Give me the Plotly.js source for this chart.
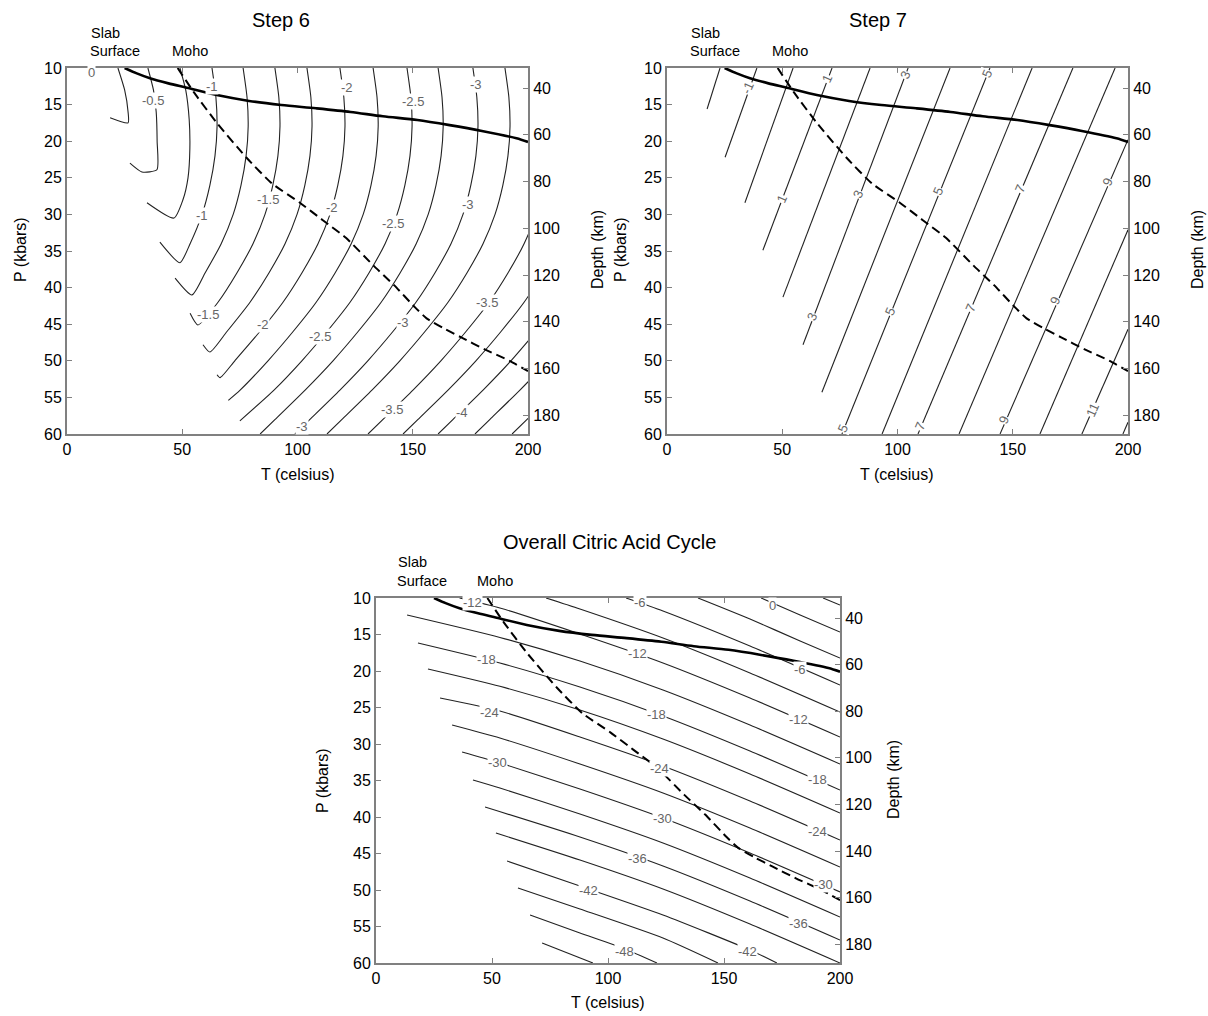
<!DOCTYPE html>
<html><head><meta charset="utf-8">
<script src="https://cdn.plot.ly/plotly-3.0.1.min.js"></script>
<style>html,body{margin:0;padding:0;background:#fff}#chart{width:1208px;height:1016px}</style>
</head><body><div id="chart"></div>
<script>
// ---------- shared P-T paths ----------
const slabT = [25, 30, 36, 44, 52, 65, 79, 93, 108, 123, 137, 152, 166, 180, 195, 200];
const slabP = [10, 10.7, 11.4, 12.1, 12.7, 13.7, 14.5, 15.05, 15.5, 16.0, 16.6, 17.1, 17.8, 18.6, 19.6, 20.1];
const mohoT = [48, 55, 65, 78, 89, 101, 111, 121, 133, 142, 151, 156, 163, 171, 181, 192, 200];
const mohoP = [10, 13.3, 17.5, 22.3, 25.8, 28.4, 30.8, 33.2, 37, 39.7, 42.7, 44.2, 45.5, 46.8, 48.4, 50, 51.4];

// ---------- Step 6 contours ----------
const step6Levels = ['-0.25','-0.5','-0.75','-1','-1.25','-1.5','-1.75','-2','-2.25','-2.5','-2.75','-3','-3.25','-3.5','-3.75','-4','-4.25','-4.5'];
const step6T = [
 [22.1, 25.0, 26.5, 26.5, 18.7],
 [35.1, 37.5, 38.7, 39.1, 39.0, 32.5, 27.3],
 [49.0, 51.5, 53.0, 53.3, 52.5, 50.3, 46.4, 34.7],
 [62.9, 64.6, 65.1, 64.2, 62.0, 58.6, 53.4, 49.0, 40.3],
 [76.4, 78.1, 78.6, 77.7, 75.5, 72.1, 66.9, 59.9, 54.2, 46.9],
 [90.2, 91.9, 92.4, 91.5, 89.3, 85.9, 80.7, 73.7, 65.5, 56.8, 53.4],
 [104.1, 105.8, 106.3, 105.4, 103.2, 99.8, 94.6, 87.6, 79.4, 69.4, 62.0, 59.0],
 [118.4, 120.1, 120.6, 119.7, 117.5, 114.1, 108.9, 101.9, 93.7, 83.7, 72.8, 66.4, 65.1],
 [132.8, 134.5, 135.0, 134.1, 131.9, 128.5, 123.3, 116.3, 108.1, 98.1, 87.2, 75.1, 70.0],
 [147.5, 149.2, 149.7, 148.8, 146.6, 143.2, 138.0, 131.0, 122.8, 112.8, 101.9, 89.8, 75.0],
 [161.0, 162.7, 163.2, 162.3, 160.1, 156.7, 151.5, 144.5, 136.3, 126.3, 115.4, 103.3, 90.3, 83.8],
 [176.1, 177.8, 178.3, 177.4, 175.2, 171.8, 166.6, 159.6, 151.4, 141.4, 130.5, 118.4, 105.4, 98.9],
 [190.0, 191.7, 192.2, 191.3, 189.1, 185.7, 180.5, 173.5, 165.3, 155.3, 144.4, 132.3, 119.3, 112.8],
 [207.8, 209.5, 210.0, 209.1, 206.9, 203.5, 198.3, 191.3, 183.1, 173.1, 162.2, 150.1, 137.1, 130.6],
 [223.0, 224.7, 225.2, 224.3, 222.1, 218.7, 213.5, 206.5, 198.3, 188.3, 177.4, 165.3, 152.3, 145.8],
 [238.2, 239.9, 240.4, 239.5, 237.3, 233.9, 228.7, 221.7, 213.5, 203.5, 192.6, 180.5, 167.5, 161.0],
 [254.2, 255.9, 256.4, 255.5, 253.3, 249.9, 244.7, 237.7, 229.5, 219.5, 208.6, 196.5, 183.5, 177.0],
 [270.3, 272.0, 272.5, 271.6, 269.4, 266.0, 260.8, 253.8, 245.6, 235.6, 224.7, 212.6, 199.6, 193.1]
];
const step6P = [
 [10, 13, 16, 17.5, 16.8],
 [10, 13, 16, 20, 23.9, 24.2, 23.0],
 [10, 13, 17, 21, 25, 28, 30.5, 28.4],
 [10, 14, 18, 22, 26, 30, 34, 36.6, 33.8],
 [10, 14, 18, 22, 26, 30, 34, 38, 41.0, 38.7],
 [10, 14, 18, 22, 26, 30, 34, 38, 42, 45.1, 43.5],
 [10, 14, 18, 22, 26, 30, 34, 38, 42, 46, 48.8, 47.8],
 [10, 14, 18, 22, 26, 30, 34, 38, 42, 46, 50, 52.3, 51.9],
 [10, 14, 18, 22, 26, 30, 34, 38, 42, 46, 50, 54, 55.4],
 [10, 14, 18, 22, 26, 30, 34, 38, 42, 46, 50, 54, 58.2],
 [10, 14, 18, 22, 26, 30, 34, 38, 42, 46, 50, 54, 58, 60],
 [10, 14, 18, 22, 26, 30, 34, 38, 42, 46, 50, 54, 58, 60],
 [10, 14, 18, 22, 26, 30, 34, 38, 42, 46, 50, 54, 58, 60],
 [10, 14, 18, 22, 26, 30, 34, 38, 42, 46, 50, 54, 58, 60],
 [10, 14, 18, 22, 26, 30, 34, 38, 42, 46, 50, 54, 58, 60],
 [10, 14, 18, 22, 26, 30, 34, 38, 42, 46, 50, 54, 58, 60],
 [10, 14, 18, 22, 26, 30, 34, 38, 42, 46, 50, 54, 58, 60],
 [10, 14, 18, 22, 26, 30, 34, 38, 42, 46, 50, 54, 58, 60]
];
const step6LabT = [10.8, 37.3, 62.9, 121.5, 150.1, 177.4, 58.6, 87.2, 115.0, 141.4, 174.0, 61.2, 85.0, 109.8, 145.8, 182.2, 102.0, 141.0, 171.4];
const step6LabP = [10.6, 14.4, 12.5, 12.7, 14.6, 12.3, 30.1, 28.0, 29.0, 31.2, 28.7, 43.7, 45.1, 46.7, 44.8, 42.1, 59.0, 56.7, 57.1];
const step6LabText = ['0','-0.5','-1','-2','-2.5','-3','-1','-1.5','-2','-2.5','-3','-1.5','-2','-2.5','-3','-3.5','-3','-3.5','-4'];

// ---------- Step 7 contours ----------
const step7Levels = ['-2','-1','0','1','2','3','4','5','6','7','8','9','10','11','12'];
const step7T = [[23.0,17.4],[39.0,25.2],[54.7,33.8],[71.6,41.6],[88.1,50.3],[104.6,59.0],[122.8,67.2],[140.1,75.9],[158.4,93.3],[176.1,108.9],[194.4,126.7],[200,144.5],[200,161.8],[200,180.0],[200,197.8]];
const step7P = [[10,15.6],[10,22.2],[10,28.4],[10,34.9],[10,41.3],[10,47.8],[10,54.3],[10,60],[10,60],[10,60],[10,60],[19.8,60],[32.1,60],[45.7,60],[58.4,60]];
const step7LabT = [35.1, 69.4, 103.3, 138.8, 49.5, 82.9, 117.6, 153.1, 190.9, 62.9, 96.7, 131.5, 168.3, 76.4, 109.8, 146.2, 184.8];
const step7LabP = [12.7, 11.4, 11.0, 10.7, 27.9, 27.3, 26.9, 26.4, 25.6, 43.9, 43.2, 42.8, 41.7, 59.3, 59.0, 58.0, 56.7];
const step7LabText = ['-1','1','3','5','1','3','5','7','9','3','5','7','9','5','7','9','11'];

// ---------- Overall cycle contours ----------
const overallLevels = ['3','0','-3','-6','-9','-12','-15','-18','-21','-24','-27','-30','-33','-36','-39','-42','-45','-48','-51'];
const overallT = [
 [192.7, 200],
 [166.0, 182.8, 200],
 [138.8, 161.2, 182.8, 200],
 [107.8, 123.7, 161.2, 200],
 [73.3, 87.9, 123.7, 161.2, 200],
 [36.0, 53.4, 87.9, 123.7, 161.2, 200],
 [13.4, 53.4, 87.9, 123.7, 161.2, 200],
 [18.1, 53.4, 87.9, 123.7, 161.2, 200],
 [22.4, 53.4, 87.9, 123.7, 161.2, 200],
 [27.6, 53.4, 87.9, 123.7, 161.2, 200],
 [32.8, 53.4, 87.9, 123.7, 161.2, 200],
 [37.1, 52.2, 87.9, 123.7, 161.2, 200],
 [41.8, 53.4, 87.9, 123.7, 161.2, 200],
 [47.0, 87.9, 123.7, 161.2, 200],
 [51.7, 87.9, 123.7, 161.2, 200],
 [56.5, 87.9, 123.7, 161.2, 172.8],
 [61.2, 87.9, 123.7, 147.4],
 [66.4, 87.9, 107.3, 121.1],
 [71.6, 93.5]
];
const overallP = [
 [10, 10.96],
 [10, 12.33, 14.66],
 [10, 12.88, 15.89, 18.22],
 [10, 11.78, 16.58, 21.92],
 [10, 11.51, 15.48, 20.27, 25.62],
 [10, 11.37, 14.93, 18.90, 23.70, 29.04],
 [12.33, 15.4, 18.63, 22.60, 27.40, 32.74],
 [16.16, 18.9, 22.19, 26.16, 30.96, 36.30],
 [19.73, 22.1, 25.34, 29.32, 34.11, 39.45],
 [23.70, 25.48, 29.04, 33.01, 37.81, 43.15],
 [27.40, 29.18, 32.74, 36.71, 41.51, 46.85],
 [31.10, 32.47, 36.16, 40.14, 44.93, 50.27],
 [34.93, 36.03, 39.59, 43.56, 48.36, 53.70],
 [38.63, 42.74, 46.71, 51.51, 56.85],
 [42.19, 45.89, 49.86, 54.66, 60],
 [46.03, 49.45, 53.42, 58.22, 60],
 [49.73, 52.60, 56.58, 60],
 [53.42, 55.89, 58.08, 60],
 [57.26, 60]
];
const overallLabT = [41.4, 113.8, 171.1, 112.9, 182.8, 47.8, 120.7, 181.9, 49.1, 122.0, 190.1, 52.2, 123.7, 190.5, 112.5, 192.7, 91.4, 181.9, 107.3, 160.3];
const overallLabP = [10.68, 10.68, 10.96, 17.67, 19.73, 18.49, 25.89, 26.71, 25.75, 33.29, 34.93, 32.47, 40.14, 41.92, 45.62, 49.18, 50.0, 54.52, 58.36, 58.36];
const overallLabText = ['-12','-6','0','-12','-6','-18','-18','-12','-24','-24','-18','-30','-30','-24','-36','-30','-42','-36','-48','-42'];

// ---------- axis ticks ----------
const tTicks = [0, 50, 100, 150, 200];
const pTicks = [10, 15, 20, 25, 30, 35, 40, 45, 50, 55, 60];
const depthTicks = [40, 60, 80, 100, 120, 140, 160, 180];
const depthRange = [188, 31.4];   // depth (km) at P = 60 and P = 10 kbar

// ---------- build ----------
const FONT = 'Liberation Sans, Arial, Helvetica, sans-serif';
const traces = [];
const annotations = [];
const panels = [
  {x:'x',  y:'y',  y2:'y2', T:step6T,  P:step6P,  lt:step6LabT,  lp:step6LabP,  ltx:step6LabText,  ang:0,   shape:'spline'},
  {x:'x2', y:'y3', y2:'y4', T:step7T,  P:step7P,  lt:step7LabT,  lp:step7LabP,  ltx:step7LabText,  ang:-66, shape:'linear'},
  {x:'x3', y:'y5', y2:'y6', T:overallT, P:overallP, lt:overallLabT, lp:overallLabP, ltx:overallLabText, ang:0,   shape:'spline'}
];
panels.forEach(pn => {
  pn.T.forEach((tt, i) => {
    traces.push({type:'scatter', mode:'lines', x:tt, y:pn.P[i], xaxis:pn.x, yaxis:pn.y,
      line:{color:'#222', width:1.1, shape:pn.shape, smoothing:0.6}, hoverinfo:'skip', showlegend:false});
  });
  traces.push({type:'scatter', mode:'lines', x:slabT, y:slabP, xaxis:pn.x, yaxis:pn.y,
    line:{color:'#000', width:2.6, shape:'spline', smoothing:0.8}, hoverinfo:'skip', showlegend:false});
  traces.push({type:'scatter', mode:'lines', x:mohoT, y:mohoP, xaxis:pn.x, yaxis:pn.y,
    line:{color:'#000', width:2, dash:'9px,5px', shape:'spline', smoothing:0.5}, hoverinfo:'skip', showlegend:false});
  traces.push({type:'scatter', mode:'lines', x:[], y:[], xaxis:pn.x, yaxis:pn.y2, hoverinfo:'skip', showlegend:false});
  pn.lt.forEach((t, i) => {
    annotations.push({xref:pn.x, yref:pn.y, x:t, y:pn.lp[i], text:pn.ltx[i], showarrow:false,
      font:{family:FONT, size:13, color:'#666'}, bgcolor:'#fff', borderpad:0, textangle:pn.ang});
  });
});

function xAx(dom, anchor) {
  return {domain:dom, anchor:anchor, range:[0,200], tickvals:tTicks, ticks:'inside', ticklen:5, tickwidth:1,
    tickcolor:'#808080', showline:true, linecolor:'#808080', linewidth:2, mirror:'ticks', showgrid:false,
    zeroline:false, tickfont:{family:FONT, size:16, color:'#000'}, fixedrange:true};
}
function yAx(dom, anchor) {
  return {domain:dom, anchor:anchor, range:[60,10], tickvals:pTicks, ticks:'inside', ticklen:5, tickwidth:1,
    tickcolor:'#808080', showline:true, linecolor:'#808080', linewidth:2, showgrid:false, zeroline:false,
    tickfont:{family:FONT, size:16, color:'#000'}, fixedrange:true};
}
function dAx(over, anchor) {
  return {overlaying:over, anchor:anchor, side:'right', range:depthRange, tickvals:depthTicks, ticks:'inside',
    ticklen:5, tickwidth:1, tickcolor:'#808080', showline:true, linecolor:'#808080', linewidth:2,
    showgrid:false, zeroline:false, tickfont:{family:FONT, size:16, color:'#000'}, fixedrange:true};
}
const W = 1208, H = 1016;
const fx = px => px / W, fy = py => 1 - py / H;

function txt(text, px, py, size, opts) {
  return Object.assign({xref:'paper', yref:'paper', x:fx(px), y:fy(py), text:text, showarrow:false,
    xanchor:'center', yanchor:'middle', font:{family:FONT, size:size, color:'#000'}}, opts || {});
}
annotations.push(
  txt('Step 6', 281, 20, 20), txt('Step 7', 878, 20, 20), txt('Overall Citric Acid Cycle', 609, 542, 20),
  txt('P (kbars)', 20, 250, 16, {textangle:-90}), txt('Depth (km)', 597, 250, 16, {textangle:-90}),
  txt('P (kbars)', 620, 250, 16, {textangle:-90}), txt('Depth (km)', 1197, 250, 16, {textangle:-90}),
  txt('P (kbars)', 322, 780, 16, {textangle:-90}), txt('Depth (km)', 893, 780, 16, {textangle:-90}),
  txt('T (celsius)', 298, 474, 16), txt('T (celsius)', 897, 474, 16), txt('T (celsius)', 608, 1002, 16),
  txt('Slab', 89, 33, 14.5, {xanchor:'left'}), txt('Surface', 88, 51, 14.5, {xanchor:'left'}), txt('Moho', 170, 51, 14.5, {xanchor:'left'}),
  txt('Slab', 689, 33, 14.5, {xanchor:'left'}), txt('Surface', 688, 51, 14.5, {xanchor:'left'}), txt('Moho', 770, 51, 14.5, {xanchor:'left'}),
  txt('Slab', 396, 562, 14.5, {xanchor:'left'}), txt('Surface', 395, 581, 14.5, {xanchor:'left'}), txt('Moho', 475, 581, 14.5, {xanchor:'left'})
);

const layout = {
  width:W, height:H, margin:{l:0, r:0, t:0, b:0}, paper_bgcolor:'#fff', plot_bgcolor:'#fff',
  showlegend:false, font:{family:FONT, color:'#000'},
  xaxis: xAx([fx(67), fx(528)], 'y'),
  yaxis: yAx([fy(434), fy(68)], 'x'),
  yaxis2: dAx('y', 'x'),
  xaxis2: xAx([fx(667), fx(1128)], 'y3'),
  yaxis3: yAx([fy(434), fy(68)], 'x2'),
  yaxis4: dAx('y3', 'x2'),
  xaxis3: xAx([fx(376), fx(840)], 'y5'),
  yaxis5: yAx([fy(963), fy(598)], 'x3'),
  yaxis6: dAx('y5', 'x3'),
  annotations: annotations
};
Plotly.newPlot('chart', traces, layout, {staticPlot:true, displayModeBar:false});
</script></body></html>
